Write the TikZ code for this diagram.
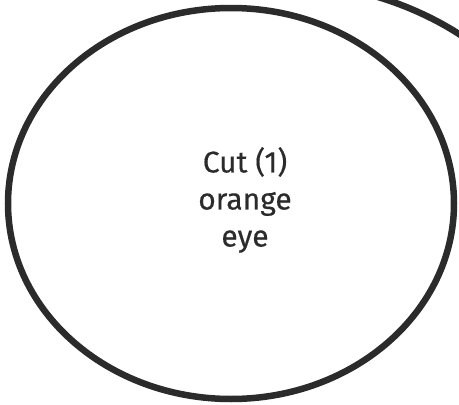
\documentclass[tikz,border=0pt]{standalone}
\usepackage{fontspec}
\setmainfont{Fira Sans}[UprightFeatures={FakeBold=0.4}]
\usetikzlibrary{shapes.geometric}
\definecolor{ink}{HTML}{2B2B2B}
\tikzset{
  outline/.style={draw=ink, line width=6.5pt},
  oval/.style={outline, ellipse, inner sep=0pt, minimum width=446pt, minimum height=391pt},
  label/.style={align=center, text=ink, font=\fontsize{30}{37}\selectfont, inner sep=0pt}
}
\begin{document}
\begin{tikzpicture}[x=1pt,y=-1pt]
\useasboundingbox (0,0) rectangle (459,405);
\node[oval] (eyeoval) at (231,203.5) {};
\node[label] (eyetext) at (245,200) {Cut (1)\\orange\\eye};
\coordinate (arcstart) at (378,-3);
\coordinate (arcend) at (462,36);
\draw[outline] (arcstart) .. controls (408,6) and (438,20) .. (arcend);
\end{tikzpicture}
\end{document}
